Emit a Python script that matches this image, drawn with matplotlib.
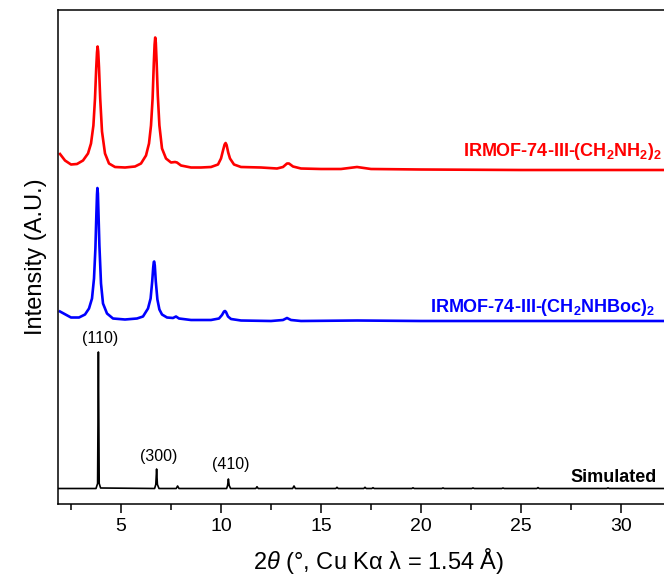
import matplotlib
matplotlib.use("Agg")
import matplotlib.pyplot as plt

plt.rcParams['font.family'] = ['Liberation Sans', 'DejaVu Sans']
plt.rcParams['mathtext.fontset'] = 'custom'
plt.rcParams['mathtext.rm'] = 'Liberation Sans'
plt.rcParams['mathtext.it'] = 'Liberation Sans:italic'
plt.rcParams['mathtext.bf'] = 'Liberation Sans:bold'

# digitized patterns (2theta, stacked intensity in a.u.)
red_x = [1.95, 2.2, 2.5, 2.8, 3.1, 3.35, 3.5, 3.62, 3.7, 3.76, 3.8, 3.83, 3.86, 3.9, 3.96, 4.05,
         4.2, 4.4, 4.7, 5.2, 5.7, 6.0, 6.25, 6.4, 6.5, 6.58, 6.64, 6.68, 6.71, 6.74, 6.78,
         6.84, 6.92, 7.05, 7.25, 7.5, 7.7, 7.8, 8.0, 8.5, 9.0, 9.5, 9.85, 10.0, 10.1, 10.18,
         10.23, 10.28, 10.36, 10.45, 10.65, 11.0, 12.0, 12.8, 13.1, 13.3, 13.4, 13.6, 14.0,
         15.0, 16.0, 16.8, 17.5, 20.0, 25.0, 30.0, 34.0]
red_y = [349.5, 343, 339, 339.5, 343, 350, 360, 378, 405, 435, 451, 457, 452, 436, 405, 372,
         350, 340, 336.5, 336, 337, 340, 348, 360, 378, 405, 440, 459, 466, 461, 442,
         408, 378, 355, 345, 341, 341.5, 341, 338, 336, 336, 336.5, 339, 345, 353, 359,
         360.5, 358.5, 351, 345, 339, 336.5, 336, 335, 336.5, 340, 340, 337, 335,
         334.5, 334.5, 336.5, 334.5, 334, 333.5, 333.5, 333.5]

blue_x = [1.95, 2.5, 2.9, 3.2, 3.4, 3.55, 3.65, 3.72, 3.77, 3.8, 3.82, 3.845, 3.87, 3.92, 4.0,
          4.1, 4.3, 4.6, 5.2, 5.8, 6.1, 6.35, 6.48, 6.56, 6.61, 6.64, 6.66, 6.69, 6.74, 6.82,
          6.92, 7.05, 7.3, 7.6, 7.75, 7.9, 8.5, 9.5, 9.9, 10.05, 10.15, 10.2, 10.25, 10.35,
          10.5, 11.0, 12.5, 13.1, 13.3, 13.5, 14.0, 16.8, 20.0, 25.0, 34.0]
blue_y = [192, 186, 186, 189, 195, 205, 225, 255, 290, 309, 315.5, 310, 293, 258, 220,
          200, 190, 185, 184, 185, 187, 195, 205, 222, 236, 241.5, 242, 238, 222, 204,
          194, 189, 186, 185.5, 187, 185, 183.5, 183.5, 185, 188.5, 192, 192.5, 191.5, 187,
          184.5, 183, 182.5, 183.5, 185.5, 183.5, 182.5, 183, 182.5, 182.5, 182.5]

sim_x = [1.85, 3.75, 3.83, 3.87, 3.91, 3.98, 6.68, 6.74, 6.78, 6.82, 6.9, 7.76, 7.83, 7.9,
         10.28, 10.33, 10.37, 10.41, 10.48, 11.74, 11.8, 11.86, 13.58, 13.65, 13.72,
         15.74, 15.8, 15.86, 17.14, 17.2, 17.26, 17.54, 17.6, 17.66, 19.54, 19.6, 19.66,
         21.04, 21.1, 21.16, 22.54, 22.6, 22.66, 24.04, 24.1, 24.16, 25.79, 25.85, 25.91,
         29.29, 29.35, 29.41, 34.0]
sim_y = [15, 15, 20, 151.5, 20, 15.5, 15, 19, 34.5, 19, 15, 15, 17.5, 15,
         15, 18, 24.5, 18, 15, 15, 16.8, 15, 15, 17.5, 15,
         15, 16.2, 15, 15, 16.2, 15, 15, 15.8, 15, 15, 15.7, 15,
         15, 15.6, 15, 15, 15.6, 15, 15, 15.5, 15, 15, 15.9, 15,
         15, 15.6, 15, 15]

peak_labels = ["(110)", "(300)", "(410)"]
peak_label_x = [3.95, 6.9, 10.48]
peak_label_y = [165.5, 47.5, 39.5]

fig = plt.figure(figsize=(6.64, 5.85), dpi=100)
ax = fig.add_axes([58 / 664, 81.5 / 585, 642 / 664, 493.5 / 585])

ax.plot(red_x, red_y, color="red", lw=1.9, solid_joinstyle="round")
ax.plot(blue_x, blue_y, color="blue", lw=1.9, solid_joinstyle="round")
ax.plot(sim_x, sim_y, color="black", lw=1.2)

for t, x, y in zip(peak_labels, peak_label_x, peak_label_y):
    ax.text(x, y, t, ha="center", va="center", fontsize=11.5)

ax.text(32.05, 351.8, r"IRMOF-74-III-(CH$_\mathbf{2}$NH$_\mathbf{2}$)$_\mathbf{2}$",
        color="red", fontsize=13, fontweight="bold", ha="right", va="center")
ax.text(31.7, 196.5, r"IRMOF-74-III-(CH$_\mathbf{2}$NHBoc)$_\mathbf{2}$",
        color="blue", fontsize=13, fontweight="bold", ha="right", va="center")
ax.text(31.8, 26.5, "Simulated", color="black", fontsize=13, fontweight="bold",
        ha="right", va="center")

ax.set_xlim(1.85, 33.95)
ax.set_ylim(0, 493.5)
ax.set_xticks([5, 10, 15, 20, 25, 30])
ax.set_xticks([2.5, 7.5, 12.5, 17.5, 22.5, 27.5, 32.5], minor=True)
ax.set_yticks([])
ax.tick_params(axis="x", which="major", direction="out", length=6.5, width=1.1,
               labelsize=14, pad=4)
ax.tick_params(axis="x", which="minor", direction="out", length=4, width=1.1)
for s in ax.spines.values():
    s.set_linewidth(1.1)

ax.set_xlabel(r"2$\it{\theta}$ (°, Cu Kα λ = 1.54 Å)", fontsize=17, labelpad=8)
ax.set_ylabel("Intensity (A.U.)", fontsize=17, labelpad=8)

fig.savefig("out.png", dpi=100)
